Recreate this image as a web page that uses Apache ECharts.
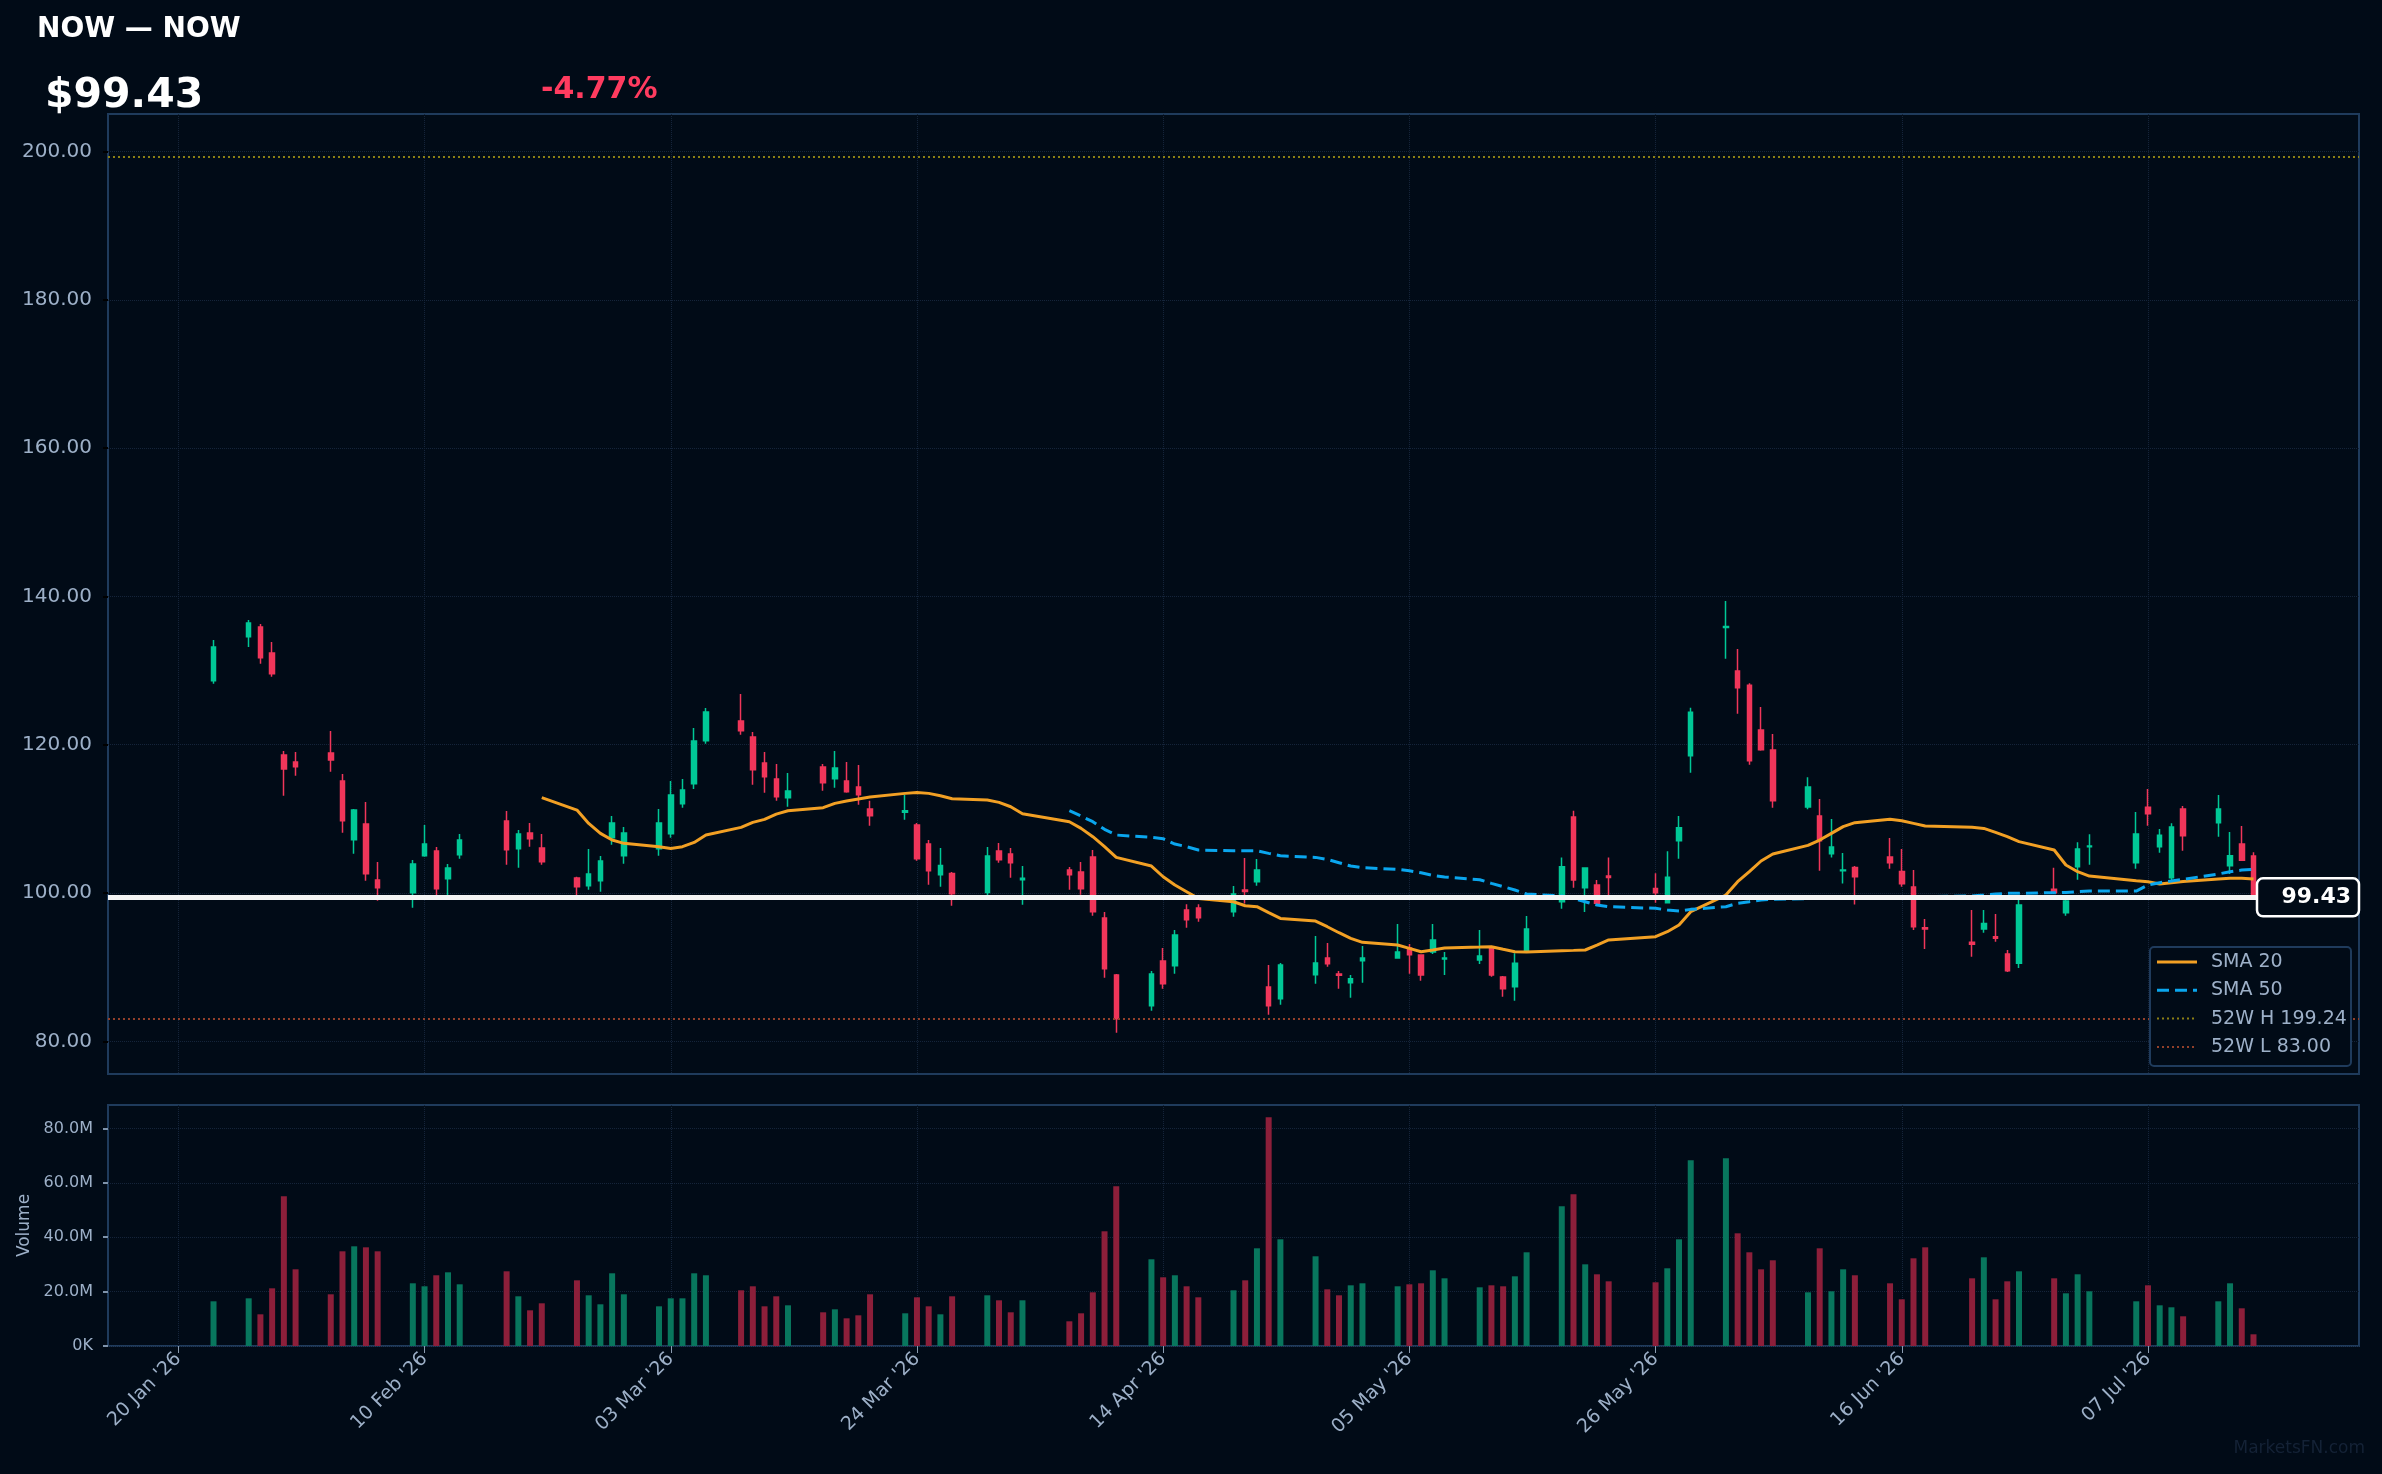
<!DOCTYPE html>
<html>
<head>
<meta charset="utf-8">
<title>NOW — NOW</title>
<script src="https://cdn.jsdelivr.net/npm/echarts@6/dist/echarts.min.js"></script>
<style>
  html, body { margin: 0; padding: 0; background: #010b17; }
  #chart { width: 2382px; height: 1474px; }
</style>
</head>
<body>
<div id="chart"></div>
<script>
// trading days shown on the chart
const tradeDates = [
  '2026-01-23',
  '2026-01-26', '2026-01-27', '2026-01-28', '2026-01-29', '2026-01-30',
  '2026-02-02', '2026-02-03', '2026-02-04', '2026-02-05', '2026-02-06',
  '2026-02-09', '2026-02-10', '2026-02-11', '2026-02-12', '2026-02-13',
  '2026-02-17', '2026-02-18', '2026-02-19', '2026-02-20',
  '2026-02-23', '2026-02-24', '2026-02-25', '2026-02-26', '2026-02-27',
  '2026-03-02', '2026-03-03', '2026-03-04', '2026-03-05', '2026-03-06',
  '2026-03-09', '2026-03-10', '2026-03-11', '2026-03-12', '2026-03-13',
  '2026-03-16', '2026-03-17', '2026-03-18', '2026-03-19', '2026-03-20',
  '2026-03-23', '2026-03-24', '2026-03-25', '2026-03-26', '2026-03-27',
  '2026-03-30', '2026-03-31', '2026-04-01', '2026-04-02',
  '2026-04-06', '2026-04-07', '2026-04-08', '2026-04-09', '2026-04-10',
  '2026-04-13', '2026-04-14', '2026-04-15', '2026-04-16', '2026-04-17',
  '2026-04-20', '2026-04-21', '2026-04-22', '2026-04-23', '2026-04-24',
  '2026-04-27', '2026-04-28', '2026-04-29', '2026-04-30', '2026-05-01',
  '2026-05-04', '2026-05-05', '2026-05-06', '2026-05-07', '2026-05-08',
  '2026-05-11', '2026-05-12', '2026-05-13', '2026-05-14', '2026-05-15',
  '2026-05-18', '2026-05-19', '2026-05-20', '2026-05-21', '2026-05-22',
  '2026-05-26', '2026-05-27', '2026-05-28', '2026-05-29',
  '2026-06-01', '2026-06-02', '2026-06-03', '2026-06-04', '2026-06-05',
  '2026-06-08', '2026-06-09', '2026-06-10', '2026-06-11', '2026-06-12',
  '2026-06-15', '2026-06-16', '2026-06-17', '2026-06-18',
  '2026-06-22', '2026-06-23', '2026-06-24', '2026-06-25', '2026-06-26',
  '2026-06-29', '2026-06-30', '2026-07-01', '2026-07-02',
  '2026-07-06', '2026-07-07', '2026-07-08', '2026-07-09', '2026-07-10',
  '2026-07-13', '2026-07-14', '2026-07-15', '2026-07-16'
]

const opens = [
  128.63,
  134.57, 135.87, 132.36, 118.61, 117.66,
  118.88, 115.10, 107.19, 109.30, 101.75,
  100.04, 105.03, 105.66, 101.93, 105.17,
  109.71, 105.98, 108.09, 106.07,
  102.02, 100.99, 101.66, 107.46, 105.03,
  105.98, 108.00, 112.05, 114.74, 120.54,
  123.20, 121.04, 117.53, 115.37, 112.86,
  116.99, 115.42, 115.10, 114.29, 111.33,
  110.90, 109.17, 106.61, 102.47, 102.65,
  100.09, 105.66, 105.26, 101.80,
  103.10, 102.83, 104.85, 96.63, 88.94,
  84.81, 90.83, 90.20, 97.71, 97.98,
  97.48, 100.40, 101.53, 87.32, 85.75,
  88.99, 91.23, 89.10, 87.91, 90.87,
  91.23, 92.58, 91.64, 92.04, 91.10,
  90.96, 92.77, 88.68, 87.37, 92.18,
  98.83, 110.25, 100.72, 101.08, 102.30,
  100.63, 98.70, 107.06, 118.52,
  135.80, 129.94, 128.01, 121.98, 119.29,
  111.60, 110.39, 105.31, 103.00, 103.46,
  104.86, 102.92, 100.81, 95.33,
  93.35, 95.15, 94.10, 91.78, 90.52,
  100.50, 97.35, 103.55, 106.25,
  104.09, 111.56, 106.25, 102.07, 111.33,
  109.49, 103.69, 106.61, 104.99
]

const closes = [
  133.17,
  136.41, 131.73, 129.58, 116.72, 117.04,
  117.94, 109.75, 111.19, 102.61, 100.72,
  103.91, 106.61, 100.58, 103.37, 107.15,
  105.84, 107.96, 107.33, 104.23,
  100.85, 102.56, 104.31, 109.44, 108.09,
  109.44, 113.22, 113.89, 120.50, 124.41,
  121.89, 116.63, 115.69, 112.99, 113.75,
  114.88, 116.86, 113.66, 113.26, 110.43,
  111.10, 104.63, 103.01, 103.73, 99.91,
  104.99, 104.50, 104.09, 102.00,
  102.47, 100.58, 97.48, 89.80, 83.05,
  89.08, 87.77, 94.34, 96.40, 96.67,
  99.86, 100.20, 103.10, 84.81, 90.29,
  90.56, 90.47, 88.90, 88.45, 91.23,
  92.04, 91.68, 88.94, 93.66, 91.25,
  91.50, 88.95, 87.10, 90.52, 95.15,
  103.55, 101.76, 103.37, 98.61, 102.10,
  100.05, 102.12, 108.81, 124.37,
  135.95, 127.69, 117.85, 119.33, 112.45,
  114.30, 107.06, 106.21, 103.10, 102.21,
  104.09, 101.26, 95.46, 95.15,
  93.10, 95.91, 93.90, 89.53, 98.38,
  100.05, 98.92, 105.94, 106.35,
  107.96, 110.70, 107.78, 108.90, 107.74,
  111.33, 105.04, 104.41, 99.43
]

const lows = [
  128.23,
  133.17, 130.93, 129.17, 113.13, 115.82,
  116.36, 108.14, 105.30, 101.66, 98.97,
  98.02, 104.90, 99.73, 99.73, 104.63,
  103.82, 103.42, 106.25, 103.82,
  99.73, 100.45, 100.18, 106.52, 103.96,
  105.03, 107.46, 111.51, 114.02, 120.14,
  121.35, 114.61, 113.53, 112.45, 111.64,
  113.80, 114.20, 113.53, 111.91, 109.08,
  109.89, 104.36, 101.12, 100.85, 98.29,
  99.73, 104.09, 102.07, 98.43,
  100.45, 99.78, 96.94, 88.58, 81.17,
  84.13, 87.10, 89.12, 95.33, 96.13,
  96.81, 98.60, 100.99, 83.59, 84.94,
  87.77, 90.07, 87.10, 85.88, 87.91,
  91.14, 89.12, 88.18, 91.77, 88.94,
  90.43, 88.72, 86.02, 85.48, 92.00,
  97.89, 100.72, 97.44, 98.39, 99.70,
  98.70, 98.61, 104.63, 116.23,
  131.60, 124.19, 117.31, 119.20, 111.51,
  111.29, 103.01, 104.81, 101.30, 98.47,
  103.28, 100.85, 95.01, 92.45,
  91.42, 94.65, 93.44, 89.35, 89.89,
  99.96, 96.95, 101.80, 103.82,
  103.28, 109.08, 105.44, 101.76, 105.71,
  107.60, 102.57, 104.40, 99.20
]

const highs = [
  134.12,
  136.81, 136.27, 133.85, 119.15, 119.01,
  121.85, 116.05, 111.33, 112.27, 104.18,
  104.45, 109.17, 106.20, 103.91, 107.96,
  111.06, 108.50, 109.44, 107.96,
  102.20, 105.93, 104.99, 110.38, 108.90,
  111.33, 115.10, 115.37, 122.25, 124.95,
  126.83, 121.71, 119.01, 117.40, 116.18,
  117.40, 119.15, 117.67, 117.26, 112.45,
  113.26, 109.44, 107.15, 106.07, 102.83,
  106.20, 106.74, 106.07, 103.64,
  103.51, 104.18, 105.80, 97.44, 89.08,
  89.48, 92.58, 95.01, 98.50, 98.50,
  100.94, 104.72, 104.58, 90.29, 90.56,
  94.20, 93.26, 89.48, 88.94, 92.85,
  95.82, 93.12, 91.64, 95.82, 92.04,
  95.01, 92.86, 88.81, 91.87, 96.90,
  104.81, 111.11, 103.46, 101.76, 104.81,
  102.66, 105.62, 110.39, 125.00,
  139.38, 132.91, 128.28, 125.09, 121.44,
  115.60, 112.68, 109.98, 105.40, 103.64,
  107.42, 105.94, 103.10, 96.50,
  97.71, 97.71, 97.17, 92.32, 99.06,
  103.42, 99.06, 106.84, 107.92,
  110.93, 114.03, 108.63, 109.40, 111.74,
  113.22, 108.23, 109.04, 105.49
]

// volume in millions of shares
const volumes = [
  16.43,
  17.53, 11.65, 21.21, 55.03, 28.20,
  19.01, 34.81, 36.65, 36.28, 34.81,
  23.05, 21.95, 26.00, 27.09, 22.68,
  27.46, 18.27, 13.12, 15.70,
  24.15, 18.64, 15.33, 26.73, 19.01,
  14.59, 17.53, 17.53, 26.73, 26.00,
  20.48, 21.95, 14.59, 18.27, 14.96,
  12.39, 13.49, 10.18, 11.28, 19.01,
  12.02, 17.90, 14.59, 11.65, 18.27,
  18.64, 16.80, 12.39, 16.80,
  9.08, 12.02, 19.74, 42.17, 58.71,
  31.88, 25.26, 26.00, 21.95, 17.90,
  20.48, 24.15, 35.92, 84.08, 39.23,
  32.98, 20.84, 18.64, 22.31, 23.05,
  21.95, 22.68, 23.05, 27.83, 24.89,
  21.58, 22.31, 21.95, 25.62, 34.45,
  51.36, 55.77, 30.03, 26.36, 23.78,
  23.42, 28.57, 39.23, 68.27,
  69.01, 41.43, 34.45, 28.20, 31.51,
  19.74, 35.92, 20.11, 28.20, 26.00,
  23.05, 17.17, 32.24, 36.28,
  24.89, 32.61, 17.17, 23.78, 27.46,
  24.89, 19.37, 26.36, 20.11,
  16.43, 22.31, 14.96, 14.23, 10.92,
  16.43, 23.05, 13.86, 4.30
]

// moving averages as drawn (null before each one starts)
const sma20 = [
  null, null, null, null, null, null, null, null, null, null,
  null, null, null, null, null, null, null, null, null,
  112.86,
  111.19, 109.39, 108.05, 107.15, 106.70,
  106.25, 106.02, 106.25, 106.83, 107.82,
  108.86, 109.53, 109.94, 110.65, 111.10,
  111.51, 112.09, 112.41, 112.68, 112.95,
  113.44, 113.57, 113.44, 113.13, 112.72,
  112.54, 112.23, 111.64, 110.70,
  109.62, 108.72, 107.60, 106.25, 104.81,
  103.64, 102.20, 101.08, 100.18, 99.28,
  98.83, 98.29, 98.16, 97.35, 96.58,
  96.22, 95.46, 94.65, 93.89, 93.35,
  92.99, 92.54, 92.09, 92.32, 92.59,
  92.72, 92.77, 92.41, 92.09, 92.05,
  92.23, 92.27, 92.32, 92.99, 93.67,
  94.12, 94.79, 95.69, 97.49,
  99.73, 101.53, 102.88, 104.32, 105.26,
  106.43, 107.15, 108.05, 108.95, 109.49,
  109.94, 109.76, 109.40, 109.04,
  108.86, 108.72, 108.18, 107.60, 106.93,
  105.80, 103.78, 102.88, 102.29,
  101.67, 101.53, 101.22, 101.40, 101.57,
  101.89, 101.98, 101.98, 101.89
]

const sma50 = [
  null, null, null, null, null, null, null, null, null, null,
  null, null, null, null, null, null, null, null, null, null,
  null, null, null, null, null, null, null, null, null, null,
  null, null, null, null, null, null, null, null, null, null,
  null, null, null, null, null, null, null, null, null,
  111.10, 110.38, 109.62, 108.59, 107.82,
  107.51, 107.33, 106.61, 106.25, 105.80,
  105.71, 105.71, 105.71, 105.35, 105.03,
  104.81, 104.54, 104.09, 103.64, 103.42,
  103.19, 103.01, 102.74, 102.38, 102.16,
  101.80, 101.31, 100.86, 100.41, 99.87,
  99.60, 99.28, 98.83, 98.38, 98.16,
  97.94, 97.71, 97.58, 97.80,
  98.16, 98.61, 98.83, 99.06, 99.15,
  99.25, 99.30, 99.35, 99.38, 99.40,
  99.42, 99.45, 99.48, 99.52,
  99.60, 99.73, 99.87, 99.96, 99.96,
  100.05, 100.09, 100.18, 100.27,
  100.27, 101.08, 101.40, 101.62, 101.85,
  102.57, 102.88, 103.10, 103.19
]

const tickDates = [
  '2026-01-20', '2026-02-10', '2026-03-03', '2026-03-24', '2026-04-14',
  '2026-05-05', '2026-05-26', '2026-06-16', '2026-07-07'
]
const priceTicks = [80, 100, 120, 140, 160, 180, 200]
const volumeTicks = [0, 20, 40, 60, 80]

const lastPrice = 99.43
const changePct = '-4.77%'
const high52 = 199.24
const low52 = 83.00

// colours
const bg = '#010b17'
const upColor = '#00c896'
const downColor = '#f0365a'
const upVol = '#08765d'
const downVol = '#8c1f3a'
const textColor = '#9db0c8'
const borderColor = '#1f3b5c'
const gridColor = '#15243a'
const sma20Color = '#f2a024'
const sma50Color = '#0aa6ee'
const highColor = '#8c7f14'
const lowColor = '#93402a'

// calendar axis, one category per day
const months = ['Jan', 'Feb', 'Mar', 'Apr', 'May', 'Jun', 'Jul', 'Aug', 'Sep', 'Oct', 'Nov', 'Dec']
const days = []
for (let t = Date.UTC(2026, 0, 14); t <= Date.UTC(2026, 6, 25); t += 86400000) {
  days.push(new Date(t).toISOString().slice(0, 10))
}
const rowOf = {}
tradeDates.forEach((d, i) => { rowOf[d] = i })

const candleData = days.map(d => {
  const i = rowOf[d]
  return i === undefined ? ['-', '-', '-', '-'] : [opens[i], closes[i], lows[i], highs[i]]
})
const sma20Data = days.map(d => {
  const i = rowOf[d]
  return i === undefined || sma20[i] == null ? '-' : sma20[i]
})
const sma50Data = days.map(d => {
  const i = rowOf[d]
  return i === undefined || sma50[i] == null ? '-' : sma50[i]
})
const volumeData = days.map(d => {
  const i = rowOf[d]
  if (i === undefined) return '-'
  return { value: volumes[i], itemStyle: { color: closes[i] >= opens[i] ? upVol : downVol } }
})

const isTick = (index) => tickDates.indexOf(days[index]) !== -1
const fmtDate = (d) => d.slice(8, 10) + ' ' + months[+d.slice(5, 7) - 1] + " '" + d.slice(2, 4)

const font = 'DejaVu Sans'

const chart = echarts.init(document.getElementById('chart'))

chart.setOption({
  backgroundColor: bg,
  animation: false,
  textStyle: { fontFamily: font },
  grid: [
    { left: 108, right: 23, top: 114, height: 960, show: true, borderColor: borderColor, borderWidth: 2, backgroundColor: 'transparent' },
    { left: 108, right: 23, top: 1105, height: 241, show: true, borderColor: borderColor, borderWidth: 2, backgroundColor: 'transparent' }
  ],
  xAxis: [
    {
      type: 'category',
      gridIndex: 0,
      data: days,
      boundaryGap: false,
      axisLine: { show: false },
      axisTick: { show: false },
      axisLabel: { show: false },
      splitLine: { show: true, interval: (i) => isTick(i), lineStyle: { color: gridColor, type: 'dotted', width: 1 } }
    },
    {
      type: 'category',
      gridIndex: 1,
      data: days,
      boundaryGap: false,
      axisLine: { show: false },
      axisTick: { show: true, interval: (i) => isTick(i), length: 7, lineStyle: { color: '#8a9bb0', width: 1 } },
      axisLabel: {
        interval: (i) => isTick(i),
        rotate: 45,
        margin: 10,
        color: textColor,
        fontSize: 19,
        fontFamily: font,
        formatter: (v) => fmtDate(v)
      },
      splitLine: { show: true, interval: (i) => isTick(i), lineStyle: { color: gridColor, type: 'dotted', width: 1 } }
    }
  ],
  yAxis: [
    {
      type: 'value',
      gridIndex: 0,
      min: 75.6,
      max: 205.05,
      axisLine: { show: false },
      axisTick: { show: true, length: 5, customValues: priceTicks, lineStyle: { color: '#000000', width: 2 } },
      axisLabel: { customValues: priceTicks, color: textColor, fontSize: 20, fontFamily: font, margin: 16, formatter: (v) => v.toFixed(2) },
      splitLine: { show: true, lineStyle: { color: gridColor, type: 'dotted', width: 1 } }
    },
    {
      type: 'value',
      gridIndex: 1,
      min: 0,
      max: 88.6,
      name: 'Volume',
      nameLocation: 'middle',
      nameRotate: 90,
      nameGap: 75,
      nameTextStyle: { color: textColor, fontSize: 17, fontFamily: font },
      axisLine: { show: false },
      axisTick: { show: true, length: 5, customValues: volumeTicks, lineStyle: { color: '#7f93ab', width: 2 } },
      axisLabel: { customValues: volumeTicks, color: textColor, fontSize: 16, fontFamily: font, margin: 15, formatter: (v) => v === 0 ? '0K' : v.toFixed(1) + 'M' },
      splitLine: { show: true, lineStyle: { color: gridColor, type: 'dotted', width: 1 } }
    }
  ],
  series: [
    {
      name: 'NOW',
      type: 'candlestick',
      xAxisIndex: 0,
      yAxisIndex: 0,
      barWidth: 5,
      data: candleData,
      itemStyle: {
        color: upColor,
        color0: downColor,
        borderColor: upColor,
        borderColor0: downColor,
        borderWidth: 1.5
      },
      markLine: {
        silent: true,
        symbol: ['none', 'none'],
        z: 6,
        label: { show: false },
        data: [
          { yAxis: high52, lineStyle: { color: highColor, type: [2, 3], width: 2 } },
          { yAxis: low52, lineStyle: { color: lowColor, type: [2, 3], width: 2 } },
          { yAxis: lastPrice, lineStyle: { color: '#f4f4f4', type: 'solid', width: 5 } }
        ]
      }
    },
    {
      name: 'SMA 20',
      type: 'line',
      xAxisIndex: 0,
      yAxisIndex: 0,
      data: sma20Data,
      connectNulls: true,
      symbol: 'none',
      lineStyle: { color: sma20Color, width: 3 }
    },
    {
      name: 'SMA 50',
      type: 'line',
      xAxisIndex: 0,
      yAxisIndex: 0,
      data: sma50Data,
      connectNulls: true,
      symbol: 'none',
      lineStyle: { color: sma50Color, width: 3, type: [12, 6] }
    },
    {
      name: 'Volume',
      type: 'bar',
      xAxisIndex: 1,
      yAxisIndex: 1,
      barWidth: 6,
      data: volumeData
    }
  ]
})

// legend box (drawn by hand so the line styles match)
const legendItems = [
  { name: 'SMA 20', color: sma20Color, dash: null, width: 3 },
  { name: 'SMA 50', color: sma50Color, dash: [12, 6], width: 3 },
  { name: '52W H ' + high52.toFixed(2), color: highColor, dash: [2, 3], width: 2 },
  { name: '52W L ' + low52.toFixed(2), color: lowColor, dash: [2, 3], width: 2 }
]
const legendGraphics = [
  { id: 'legBox', type: 'rect', z: 100, shape: { x: 2150, y: 947, width: 201, height: 119, r: 4 }, style: { fill: bg, stroke: borderColor, lineWidth: 2 } }
]
legendItems.forEach((it, k) => {
  const y = 962 + k * 28.3
  legendGraphics.push({ id: 'legLine' + k, type: 'line', z: 101, shape: { x1: 2157, y1: y, x2: 2197, y2: y }, style: { stroke: it.color, lineWidth: it.width, lineDash: it.dash } })
  legendGraphics.push({ id: 'legText' + k, type: 'text', z: 101, x: 2211, y: y, style: { text: it.name, fill: textColor, font: '19px "DejaVu Sans"', align: 'left', textAlign: 'left', verticalAlign: 'middle', textVerticalAlign: 'middle' } })
})

// header texts and the last-price tag
const tagY = chart.convertToPixel({ yAxisIndex: 0 }, lastPrice)
chart.setOption({
  graphic: [
    { id: 'title', type: 'text', x: 37, y: 30, style: { text: 'NOW — NOW', fill: '#ffffff', font: 'bold 28px "DejaVu Sans"', align: 'left', textAlign: 'left', verticalAlign: 'middle', textVerticalAlign: 'middle' } },
    { id: 'price', type: 'text', x: 45, y: 96, style: { text: '$' + lastPrice.toFixed(2), fill: '#ffffff', font: 'bold 41px "DejaVu Sans"', align: 'left', textAlign: 'left', verticalAlign: 'middle', textVerticalAlign: 'middle' } },
    { id: 'change', type: 'text', x: 541, y: 90, style: { text: changePct, fill: '#ff3b5f', font: 'bold 30px "DejaVu Sans"', align: 'left', textAlign: 'left', verticalAlign: 'middle', textVerticalAlign: 'middle' } },
    { id: 'tagBox', type: 'rect', z: 20, shape: { x: 2257, y: tagY - 19, width: 102, height: 38, r: 6 }, style: { fill: bg, stroke: '#ffffff', lineWidth: 2.5 } },
    { id: 'tagText', type: 'text', z: 21, x: 2351, y: tagY, style: { text: lastPrice.toFixed(2), fill: '#ffffff', font: 'bold 22px "DejaVu Sans"', align: 'right', textAlign: 'right', verticalAlign: 'middle', textVerticalAlign: 'middle' } },
    { id: 'mark', type: 'text', x: 2365, y: 1449, style: { text: 'MarketsFN.com', fill: '#142236', font: '17px "DejaVu Sans"', align: 'right', textAlign: 'right', verticalAlign: 'middle', textVerticalAlign: 'middle' } }
  ].concat(legendGraphics)
})
</script>
</body>
</html>
